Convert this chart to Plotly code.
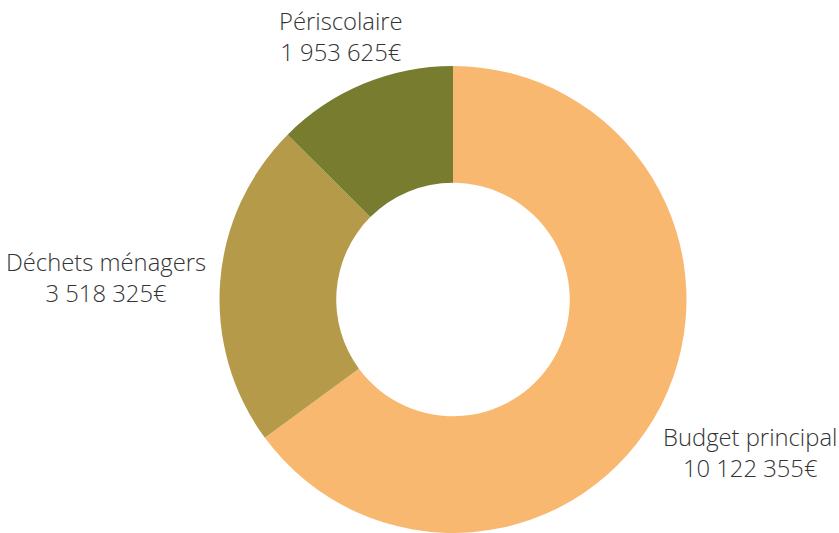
import plotly.graph_objects as go

categories = ["Budget principal", "Déchets ménagers", "Périscolaire"]
values = [10122355, 3518325, 1953625]
colors = ["#F8B870", "#B59A4A", "#787C2F"]

def fmt(v):
    return f"{v:,}".replace(",", " ") + "€"

labels_text = [f"{c}<br>{fmt(v)}" for c, v in zip(categories, values)]

W, H = 839, 533
M = dict(l=67, r=0, t=66, b=0)

# label centres in figure pixels
label_pos = [(750, 452), (106, 277), (341, 37)]

fig = go.Figure(go.Pie(
    labels=categories,
    values=values,
    textinfo="none",
    hole=0.5,
    sort=False,
    direction="clockwise",
    rotation=0,
    marker=dict(colors=colors, line=dict(width=0)),
    showlegend=False,
    hoverinfo="label+value",
))

pw = W - M["l"] - M["r"]
ph = H - M["t"] - M["b"]
for txt, (px, py) in zip(labels_text, label_pos):
    xp = (px - M["l"]) / pw
    yp = 1 - (py - M["t"]) / ph
    fig.add_annotation(
        x=xp, y=yp, xref="paper", yref="paper",
        text=txt, showarrow=False, align="center",
        xanchor="center", yanchor="middle",
        font=dict(family="Open Sans", size=23.8, color="#333333", weight=300),
    )

fig.update_layout(
    width=W, height=H,
    margin=dict(**M, autoexpand=False),
    paper_bgcolor="white",
    plot_bgcolor="white",
)

fig.write_html(
    "out.html",
    config={"displayModeBar": False},
    post_script="document.body.style.margin='0';document.body.style.overflow='hidden';",
)
